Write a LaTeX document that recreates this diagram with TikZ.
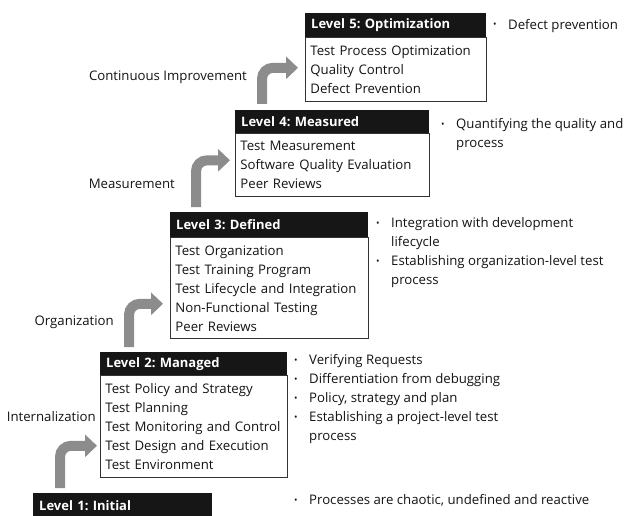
\documentclass[tikz,border=0pt]{standalone}
\usepackage{fontspec}
\setmainfont{Open Sans}
\usetikzlibrary{arrows.meta,calc}
\definecolor{ink}{RGB}{20,20,20}
\definecolor{hdrfill}{RGB}{22,22,22}
\definecolor{stepgray}{RGB}{140,140,140}
\newcommand\bdot{\makebox[15pt][l]{\raisebox{1.5pt}{\scalebox{0.7}{•}}}}
\frenchspacing
\begin{document}
\begin{tikzpicture}[x=1pt,y=-1pt,
  every node/.style={inner sep=0pt, text=ink, font=\fontsize{13.2}{19}\selectfont},
  hdr/.style={anchor=north west, fill=hdrfill, text=white, align=left,
    font=\fontsize{13}{19}\selectfont\bfseries, inner xsep=6pt,
    text width=#1-12pt, minimum height=24pt},
  bodybox/.style={anchor=north west, draw=black!80, line width=0.8pt, align=left,
    inner xsep=5pt, text width=#1-10pt},
  bullets/.style={anchor=base west},
  sidelabel/.style={anchor=base east},
  stepper/.style={draw=stepgray, line width=10pt, rounded corners=11pt,
    -{Triangle[length=12pt,width=22pt]}}
]
\useasboundingbox (0,0) rectangle (629,516);
\clip (0,0) rectangle (629,516);
\fill[white] (0,0) rectangle (629,516);

% Level 5
\node[hdr=181pt] (h5) at (305,13) {Level 5: Optimization};
\node[bodybox=181pt, minimum height=64pt] (b5) at (h5.south west)
  {Test Process Optimization\\Quality Control\\Defect Prevention};
\node[bullets] (n5) at (493,29.5)
  {\begin{tabular}[t]{@{}l@{}l@{}}\bdot & Defect prevention\end{tabular}};

% Level 4
\node[hdr=194pt, minimum height=23pt] (h4) at (235,110) {Level 4: Measured};
\node[bodybox=194pt, minimum height=63pt] (b4) at (h4.south west)
  {Test Measurement\\Software Quality Evaluation\\Peer Reviews};
\node[bullets] (n4) at (441,128.5)
  {\begin{tabular}[t]{@{}l@{}l@{}}\bdot & Quantifying the quality and\\ & process\end{tabular}};

% Level 3
\node[hdr=198pt, minimum height=25pt] (h3) at (170,212) {Level 3: Defined};
\node[bodybox=198pt, minimum height=101pt] (b3) at (h3.south west)
  {Test Organization\\Test Training Program\\Test Lifecycle and Integration\\Non-Functional Testing\\Peer Reviews};
\node[bullets] (n3) at (376,227.5)
  {\begin{tabular}[t]{@{}l@{}l@{}}\bdot & Integration with development\\ & lifecycle\\
   \bdot & Establishing organization-level test\\ & process\end{tabular}};

% Level 2
\node[hdr=187pt, minimum height=23pt] (h2) at (100,352) {Level 2: Managed};
\node[bodybox=187pt, minimum height=102pt] (b2) at (h2.south west)
  {Test Policy and Strategy\\Test Planning\\Test Monitoring and Control\\Test Design and Execution\\Test Environment};
\node[bullets] (n2) at (294,364.5)
  {\begin{tabular}[t]{@{}l@{}l@{}}\bdot & Verifying Requests\\ \bdot & Differentiation from debugging\\
   \bdot & Policy, strategy and plan\\ \bdot & Establishing a project-level test\\ & process\end{tabular}};

% Level 1
\node[hdr=179pt, minimum height=25pt] (h1) at (33,493) {Level 1: Initial};
\node[bullets] (n1) at (294,504.5)
  {\begin{tabular}[t]{@{}l@{}l@{}}\bdot & Processes are chaotic, undefined and reactive\end{tabular}};

% step labels
\node[sidelabel] (l5) at (247,80.5) {Continuous Improvement};
\node[sidelabel] (l4) at (175,188) {Measurement};
\node[sidelabel] (l3) at (114,325) {Organization};
\node[sidelabel] (l2) at (96,421) {Internalization};

% bent step arrows from each level up to the next
\coordinate (s5) at ($(h4.north west)+(27,-6)$);
\coordinate (t5) at ($(b5.west)+(-7,-2)$);
\draw[stepper] (s5) |- (t5);
\coordinate (s4) at ($(h3.north west)+(26,-5)$);
\coordinate (t4) at ($(b4.west)+(-5,-5)$);
\draw[stepper] (s4) |- (t4);
\coordinate (s3) at ($(h2.north west)+(29,-5)$);
\coordinate (t3) at ($(b3.west)+(-7,15.5)$);
\draw[stepper] (s3) |- (t3);
\coordinate (s2) at ($(h1.north west)+(27,-5)$);
\coordinate (t2) at ($(b2.west)+(-3,19)$);
\draw[stepper] (s2) |- (t2);
\end{tikzpicture}
\end{document}
